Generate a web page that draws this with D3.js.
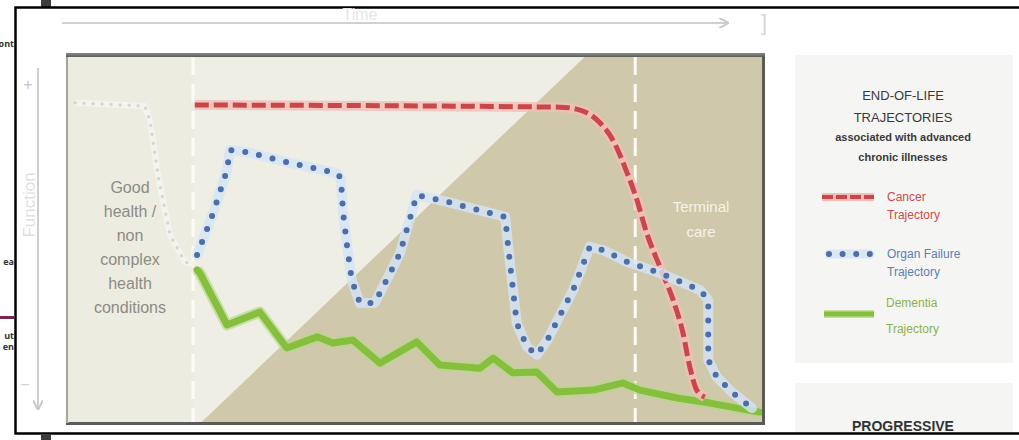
<!DOCTYPE html>
<html><head><meta charset="utf-8">
<script src="https://cdn.jsdelivr.net/npm/d3@7"></script>
<style>body{margin:0;background:#fff;} svg{display:block;font-family:"Liberation Sans",Arial,sans-serif;}</style>
</head><body><svg id="c" width="1019" height="440"></svg>
<script>
// ---- data (time 0..120, function 0..100) ----
const phaseBoundaries = [21.4, 98.3];
const darkRegionX = [22.6, 89.6, 121, 121];
const darkRegionY = [-1, 101, 101, -1];

const preX = [0.9, 13.0, 13.9, 15.3, 17.4, 20.0, 21.7];
const preY = [88.1, 87.2, 83.3, 68.1, 51.4, 43.9, 43.1];

const cancerX = [21.7, 85.2, 88.7, 92.2, 94.4, 96.9, 98.6, 100.3, 102.6, 104.9, 106.6, 107.8, 109.0, 110.4];
const cancerY = [87.5, 86.9, 86.1, 82.5, 77.8, 68.6, 61.1, 51.9, 42.5, 33.3, 24.2, 14.7, 8.3, 6.4];

const organX = [22.1, 24.9, 27.3, 27.8, 30.8, 38.3, 46.4, 47.1, 47.5, 48.2, 49.0, 50.4, 53.0, 56.2, 57.4, 60.3, 65.6, 75.7, 76.2, 77.7, 79.5, 81.2, 83.0, 87.5, 90.4, 92.7, 96.9, 102.6, 109.6, 111.0, 111.0, 112.5, 115.3, 118.6];
const organY = [45.8, 57.5, 69.4, 75.0, 74.4, 71.4, 68.6, 67.2, 57.5, 48.1, 38.9, 32.5, 32.5, 42.5, 46.4, 62.5, 60.6, 56.4, 48.1, 26.9, 20.3, 18.1, 22.2, 36.1, 48.1, 47.2, 43.9, 40.8, 36.1, 33.3, 16.7, 11.9, 7.5, 3.3];

const dementiaX = [22.1, 22.6, 27.3, 33.0, 37.7, 43.0, 45.7, 49.2, 53.9, 60.3, 64.3, 71.3, 73.6, 77.0, 81.2, 84.7, 91.0, 96.2, 99.1, 105.6, 111.3, 117.7, 120];
const dementiaY = [41.7, 40.8, 26.4, 30.0, 20.0, 23.1, 21.4, 22.2, 15.8, 21.7, 15.3, 14.4, 17.2, 13.1, 13.3, 7.8, 8.3, 10.3, 8.3, 6.1, 4.7, 2.8, 2.2];

const leftLabel = ["Good", "health /", "non", "complex", "health", "conditions"];
const terminalLabel = ["Terminal", "care"];
const legendTitle = ["END-OF-LIFE", "TRAJECTORIES"];
const legendSub = ["associated with advanced", "chronic illnesses"];
const seriesNames = [["Cancer", "Trajectory"], ["Organ Failure", "Trajectory"], ["Dementia", "Trajectory"]];
const seriesColors = ["#c9474a", "#4d6fa6", "#86bf3e"];
const textColors = ["#d0494b", "#5a7fb8", "#8db34e"];
const fragments = ["ont", "ea", "ut", "en"];

// ---- drawing ----
const svg = d3.select("#c");
const x = d3.scaleLinear().domain([0, 120]).range([70, 760]);
const y = d3.scaleLinear().domain([0, 100]).range([420, 60]);

const defs = svg.append("defs");
defs.append("clipPath").attr("id", "plotclip").append("rect").attr("x", 68).attr("y", 57).attr("width", 694).attr("height", 365);
const mk = (id, col) => defs.append("marker").attr("id", id).attr("viewBox", "0 0 10 10").attr("refX", 8).attr("refY", 5)
  .attr("markerWidth", 5).attr("markerHeight", 5).attr("orient", "auto")
  .append("path").attr("d", "M0,0 L10,5 L0,10").attr("fill", "none").attr("stroke", col).attr("stroke-width", 2);
mk("arr", "#c8c8c8");
const tg = defs.append("linearGradient").attr("id", "topg").attr("x1", 0).attr("x2", 0).attr("y1", 0).attr("y2", 1);
tg.append("stop").attr("offset", 0).attr("stop-color", "#8a8a86");
tg.append("stop").attr("offset", 1).attr("stop-color", "#4f4f4c");

// outside fragments
const fy = [47, 265, 339, 350];
svg.append("g").attr("font-family", "'Open Sans',sans-serif").attr("font-weight", "bold").attr("font-size", 9).attr("fill", "#333").attr("text-anchor", "end")
  .selectAll("text").data(fragments).join("text").attr("x", 14).attr("y", (d, i) => fy[i]).text(d => d);
svg.append("rect").attr("x", 0).attr("y", 316).attr("width", 14).attr("height", 3).attr("fill", "#7b2453");
svg.append("rect").attr("x", 41).attr("y", 0).attr("width", 10).attr("height", 7).attr("fill", "#3c3c3c");
svg.append("rect").attr("x", 41).attr("y", 435).attr("width", 10).attr("height", 5).attr("fill", "#3c3c3c");

// outer frame
svg.append("path").attr("d", "M1019,7.5 H15.5 V433.5 H1019").attr("fill", "none").attr("stroke", "#000").attr("stroke-width", 2.5);

// time arrow
svg.append("text").attr("x", 360).attr("y", 20).attr("text-anchor", "middle").attr("font-size", 16).attr("fill", "#e6e6e6").text("Time");
svg.append("line").attr("x1", 62).attr("x2", 727).attr("y1", 23).attr("y2", 23).attr("stroke", "#d0d0d0").attr("stroke-width", 2).attr("marker-end", "url(#arr)");
svg.append("text").attr("x", 764).attr("y", 30).attr("text-anchor", "middle").attr("font-size", 22).attr("fill", "#d6d6d6").text("]");

// function arrow
svg.append("line").attr("x1", 38).attr("x2", 38).attr("y1", 68).attr("y2", 408).attr("stroke", "#cfcfcf").attr("stroke-width", 2).attr("marker-end", "url(#arr)");
svg.append("text").attr("x", 28).attr("y", 90).attr("text-anchor", "middle").attr("font-size", 16).attr("fill", "#c4c4c4").text("+");
svg.append("text").attr("x", 25).attr("y", 390).attr("text-anchor", "middle").attr("font-size", 16).attr("fill", "#d0d0d0").text("−");
svg.append("text").attr("transform", "translate(35,205) rotate(-90)").attr("text-anchor", "middle").attr("font-size", 17).attr("fill", "#e0e0e0").text("Function");

// panel
svg.append("rect").attr("x", 66).attr("y", 53).attr("width", 699).attr("height", 372).attr("fill", "#5a5a57");
svg.append("rect").attr("x", 66).attr("y", 53).attr("width", 699).attr("height", 5).attr("fill", "url(#topg)");
svg.append("rect").attr("x", 66).attr("y", 57).attr("width", 3).attr("height", 366).attr("fill", "#a4a39c");
const plot = svg.append("g").attr("clip-path", "url(#plotclip)");
plot.append("rect").attr("x", 68).attr("y", 57).attr("width", 694).attr("height", 365).attr("fill", "#efeee5");
plot.append("rect").attr("x", 68).attr("y", 57).attr("width", x(phaseBoundaries[0]) - 68).attr("height", 365).attr("fill", "#edece1");
plot.append("path").attr("d", d3.line().x(d => x(d[0])).y(d => y(d[1]))(d3.zip(darkRegionX, darkRegionY)) + "Z").attr("fill", "#cfc8ab");
phaseBoundaries.forEach(b => plot.append("line").attr("x1", x(b)).attr("x2", x(b)).attr("y1", 57).attr("y2", 422)
  .attr("stroke", "#fdfcf4").attr("stroke-width", 3).attr("stroke-dasharray", "18,9"));

// labels in plot
plot.append("g").selectAll("text").data(leftLabel).join("text").attr("x", 130).attr("y", (d, i) => 193 + i * 24)
  .attr("text-anchor", "middle").attr("font-size", 16).attr("fill", "#8c8b84").text(d => d);
plot.append("g").selectAll("text").data(terminalLabel).join("text").attr("x", 701).attr("y", (d, i) => 212 + i * 25)
  .attr("text-anchor", "middle").attr("font-size", 15).attr("fill", "#f6f3e6").text(d => d);

const line = d3.line().x(d => x(d[0])).y(d => y(d[1]));
const lineC = d3.line().x(d => x(d[0])).y(d => y(d[1])).curve(d3.curveMonotoneX);
const pre = d3.zip(preX, preY), can = d3.zip(cancerX, cancerY), org = d3.zip(organX, organY), dem = d3.zip(dementiaX, dementiaY);

// faint pre-line
plot.append("path").attr("d", line(pre)).attr("fill", "none").attr("stroke", "#f4f4ee").attr("stroke-width", 6).attr("stroke-linejoin", "round");
plot.append("path").attr("d", line(pre)).attr("fill", "none").attr("stroke", "#d6d6d2").attr("stroke-width", 3.5).attr("stroke-linecap", "round").attr("stroke-dasharray", "0,9");

// dementia
plot.append("path").attr("d", line(dem)).attr("fill", "none").attr("stroke", "#b6d98a").attr("stroke-width", 11).attr("stroke-linejoin", "round").attr("opacity", 0.7);
plot.append("path").attr("d", line(dem)).attr("fill", "none").attr("stroke", seriesColors[2]).attr("stroke-width", 7).attr("stroke-linejoin", "round").attr("stroke-linecap", "round");
// cancer
plot.append("path").attr("d", lineC(can)).attr("fill", "none").attr("stroke", "#f3beb6").attr("stroke-width", 10).attr("opacity", 0.8);
plot.append("path").attr("d", lineC(can)).attr("fill", "none").attr("stroke", seriesColors[0]).attr("stroke-width", 5).attr("stroke-dasharray", "14,5");
// organ failure
plot.append("path").attr("d", line(org)).attr("fill", "none").attr("stroke", "#d3e3f8").attr("stroke-width", 10).attr("stroke-linejoin", "round").attr("stroke-linecap", "round").attr("opacity", 0.8);
plot.append("path").attr("d", line(org)).attr("fill", "none").attr("stroke", seriesColors[1]).attr("stroke-width", 6).attr("stroke-linecap", "round").attr("stroke-dasharray", "0,14");

// legend panel
svg.append("rect").attr("x", 795).attr("y", 55).attr("width", 218).attr("height", 308).attr("fill", "#f5f5f4");
svg.append("rect").attr("x", 795).attr("y", 383).attr("width", 218).attr("height", 49).attr("fill", "#f5f5f4");
const lg = svg.append("g").attr("text-anchor", "middle").attr("fill", "#3a3a3a");
lg.selectAll(".t").data(legendTitle).join("text").attr("x", 903).attr("y", (d, i) => 100 + i * 22).attr("font-size", 13).text(d => d);
lg.selectAll(".s").data(legendSub).join("text").attr("x", 903).attr("y", (d, i) => 141 + i * 20).attr("font-size", 11).attr("font-weight", "bold").text(d => d);
const ey = [197, 254, 314];
seriesNames.forEach((nm, i) => {
  const g = svg.append("g");
  if (i === 0) {
    g.append("line").attr("x1", 822).attr("x2", 874).attr("y1", ey[i]).attr("y2", ey[i]).attr("stroke", "#f3beb6").attr("stroke-width", 8);
    g.append("line").attr("x1", 822).attr("x2", 874).attr("y1", ey[i]).attr("y2", ey[i]).attr("stroke", seriesColors[0]).attr("stroke-width", 4).attr("stroke-dasharray", "11,3");
  } else if (i === 1) {
    g.append("line").attr("x1", 829).attr("x2", 870).attr("y1", ey[i]).attr("y2", ey[i]).attr("stroke", "#dbe6f5").attr("stroke-width", 9).attr("stroke-linecap", "round");
    g.append("line").attr("x1", 829).attr("x2", 870).attr("y1", ey[i]).attr("y2", ey[i]).attr("stroke", seriesColors[1]).attr("stroke-width", 6).attr("stroke-linecap", "round").attr("stroke-dasharray", "0,13.6");
  } else {
    g.append("line").attr("x1", 824).attr("x2", 874).attr("y1", ey[i]).attr("y2", ey[i]).attr("stroke", "#c6df9f").attr("stroke-width", 8);
    g.append("line").attr("x1", 824).attr("x2", 874).attr("y1", ey[i]).attr("y2", ey[i]).attr("stroke", seriesColors[2]).attr("stroke-width", 5);
  }
  const tx = i === 2 ? 886 : 887;
  g.append("text").attr("x", tx).attr("y", ey[i] + (i === 2 ? -7 : 4)).attr("font-size", 12).attr("fill", textColors[i]).text(nm[0]);
  g.append("text").attr("x", tx).attr("y", ey[i] + (i === 2 ? 19 : 22)).attr("font-size", 12).attr("fill", textColors[i]).text(nm[1]);
});
svg.append("text").attr("x", 903).attr("y", 431).attr("text-anchor", "middle").attr("font-size", 14).attr("font-weight", "bold").attr("fill", "#333").text("PROGRESSIVE");
</script></body></html>
